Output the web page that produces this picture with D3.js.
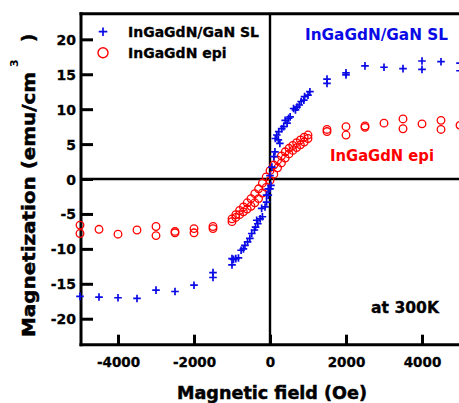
<!DOCTYPE html>
<html>
<head>
<meta charset="utf-8">
<script src="https://cdn.jsdelivr.net/npm/d3@7/dist/d3.min.js"></script>
<style>
  html, body { margin: 0; padding: 0; background: #fff; }
  svg { display: block; }
</style>
</head>
<body>
<svg id="chart" width="459" height="403"></svg>
<script>
// ---------- DATA ----------
const xTicks = [-4000, -2000, 0, 2000, 4000];
const yTicks = [-20, -15, -10, -5, 0, 5, 10, 15, 20];

// InGaGdN/GaN SL (blue +)
const slField = [
  -5000, -4500, -4000, -3500, -3000, -2500, -2000, -1500, -1500, -1000, -1000,
  -960, -900, -830, -760, -700, -660, -590, -530, -480, -410, -380, -320, -350,
  -260, -200, -220, -130, -90, -90, -45, -45, 0, 25,
  0, 50, 100, 130, 220, 260, 140, 180, 230, 310, 360, 400, 450, 490, 530,
  620, 670, 710, 770, 820, 890, 910, 1000, 1050,
  1500, 1500, 2000, 2000, 2500, 3000, 3500, 4000, 4000, 4500, 5000, 5000
];
const slMag = [
  -16.8, -16.9, -17.0, -17.1, -15.9, -16.1, -15.2, -13.4, -14.1, -11.4, -12.3,
  -11.5, -11.4, -11.3, -10.2, -10.0, -9.5, -9.0, -8.5, -7.8, -7.3, -6.9, -6.4, -5.9,
  -5.7, -5.4, -4.2, -4.0, -3.3, -2.3, -2.3, -1.4, -1.4, -0.9,
  0.5, 1.7, 3.2, 3.9, 5.6, 5.1, 5.8, 6.3, 6.8, 7.2, 7.5, 8.4, 8.0, 8.7, 8.9,
  10.1, 9.9, 10.3, 10.6, 11.1, 11.3, 11.8, 12.0, 12.5,
  14.3, 13.7, 15.2, 14.9, 16.2, 16.0, 15.8, 16.9, 15.7, 16.8, 16.6, 15.5
];

// InGaGdN epi (red o)
const epiField = [
  -5000, -5000, -4500, -4000, -3500, -3000, -3000, -2500, -2500, -2000, -2000, -1500, -1500,
  1000, 900, 800, 700, 600, 500, 400, 300, 200, 100, 0, -100, -200, -300, -400, -500, -600, -700, -800, -900, -1000,
  -1000, -900, -800, -700, -600, -500, -400, -300, -200, -100, 0, 100, 200, 300, 400, 500, 600, 700, 800, 900, 1000,
  1500, 1500, 2000, 2000, 2500, 2500, 3000, 3500, 3500, 4000, 4500, 4500, 5000
];
const epiMag = [
  -6.6, -7.8, -7.2, -7.9, -7.3, -6.8, -8.1, -7.5, -7.7, -7.1, -7.7, -6.8, -7.1,
  6.3, 6.0, 5.6, 5.2, 4.8, 4.4, 3.9, 3.3, 2.7, 2.0, 1.2, 0.3, -0.6, -1.4, -2.1, -2.8, -3.4, -4.0, -4.5, -5.1, -5.7,
  -6.1, -5.5, -5.1, -4.7, -4.3, -3.9, -3.4, -2.8, -2.0, -1.2, -0.2, 0.7, 1.6, 2.3, 3.0, 3.6, 4.1, 4.5, 4.9, 5.3, 5.8,
  7.1, 6.8, 7.5, 6.3, 7.6, 7.4, 8.0, 8.6, 7.2, 7.9, 8.4, 7.1, 7.7
];

const seriesNames = ["InGaGdN/GaN SL", "InGaGdN epi"];

// ---------- LAYOUT ----------
const svg = d3.select("#chart");
const pLeft = 81, pRight = 460, pTop = 13.7, pBottom = 344.7;
const blue = "#0a0ae6", red = "#ff0000";
const FONT = "'DejaVu Sans', sans-serif";

const x = d3.scaleLinear().domain([-5000, 5000]).range([pLeft - 1, pRight]);
const y = d3.scaleLinear().domain([-23.72, 23.67]).range([pBottom, pTop]);

// zero lines
svg.append("line").attr("x1", pLeft).attr("x2", pRight).attr("y1", y(0)).attr("y2", y(0))
  .attr("stroke", "#000").attr("stroke-width", 2.4);
svg.append("line").attr("x1", x(0)).attr("x2", x(0)).attr("y1", pTop).attr("y2", pBottom)
  .attr("stroke", "#000").attr("stroke-width", 2.4);

// axes
const fmt = d => String(d);
const yAxis = d3.axisLeft(y).tickValues(yTicks).tickSizeInner(-12).tickSizeOuter(0).tickPadding(5)
  .tickFormat(fmt);
const gy = svg.append("g").attr("transform", `translate(${pLeft},0)`).call(yAxis);
gy.select(".domain").remove();
gy.selectAll(".tick line").attr("stroke", "#000").attr("stroke-width", 3);
gy.selectAll(".tick text").attr("font-family", FONT).attr("font-weight", "bold")
  .attr("font-size", 14).attr("fill", "#000").attr("dy", "0.36em")
  .attr("stroke", "#000").attr("stroke-width", 0.3);

const xAxis = d3.axisBottom(x).tickValues(xTicks).tickSizeInner(-10).tickSizeOuter(0).tickPadding(13)
  .tickFormat(fmt);
const gx = svg.append("g").attr("transform", `translate(0,${pBottom})`).call(xAxis);
gx.select(".domain").remove();
gx.selectAll(".tick line").attr("stroke", "#000").attr("stroke-width", 3);
gx.selectAll(".tick text").attr("font-family", FONT).attr("font-weight", "bold")
  .attr("font-size", 13.5).attr("fill", "#000")
  .attr("stroke", "#000").attr("stroke-width", 0.3);

// frame lines (left, bottom, top)
svg.append("line").attr("x1", pLeft).attr("x2", pLeft).attr("y1", pTop - 1.5).attr("y2", pBottom + 1.5)
  .attr("stroke", "#000").attr("stroke-width", 3);
svg.append("line").attr("x1", pLeft - 1.5).attr("x2", pRight).attr("y1", pBottom).attr("y2", pBottom)
  .attr("stroke", "#000").attr("stroke-width", 3);
svg.append("line").attr("x1", pLeft - 1.5).attr("x2", pRight).attr("y1", pTop).attr("y2", pTop)
  .attr("stroke", "#000").attr("stroke-width", 3);

// markers
const plusPath = (cx, cy, s) => `M${cx - s},${cy}H${cx + s}M${cx},${cy - s}V${cy + s}`;

const epiData = epiField.map((h, i) => ({ h, m: epiMag[i] }));
const slData = slField.map((h, i) => ({ h, m: slMag[i] }));

svg.append("g").selectAll("circle").data(epiData).join("circle")
  .attr("cx", d => x(d.h)).attr("cy", d => y(d.m)).attr("r", 3.8)
  .attr("fill", "none").attr("stroke", red).attr("stroke-width", 1.3);

svg.append("g").selectAll("path").data(slData).join("path")
  .attr("d", d => plusPath(x(d.h), y(d.m), 3.8))
  .attr("fill", "none").attr("stroke", blue).attr("stroke-width", 1.7);

// legend
svg.append("path").attr("d", plusPath(103, 31.7, 4.3)).attr("stroke", blue).attr("stroke-width", 1.7).attr("fill", "none");
svg.append("circle").attr("cx", 103).attr("cy", 52.7).attr("r", 5).attr("fill", "none")
  .attr("stroke", red).attr("stroke-width", 1.4);
svg.append("text").attr("x", 128).attr("y", 36.6).text(seriesNames[0])
  .attr("font-family", FONT).attr("font-weight", "bold").attr("font-size", 14).attr("fill", "#000")
  .attr("stroke", "#000").attr("stroke-width", 0.3);
svg.append("text").attr("x", 128).attr("y", 57.6).text(seriesNames[1])
  .attr("font-family", FONT).attr("font-weight", "bold").attr("font-size", 14).attr("fill", "#000")
  .attr("stroke", "#000").attr("stroke-width", 0.3);

// annotations
svg.append("text").attr("x", 305).attr("y", 40).text("InGaGdN/GaN SL")
  .attr("font-family", FONT).attr("font-weight", "bold").attr("font-size", 15).attr("fill", blue)
  .attr("textLength", 143).attr("lengthAdjust", "spacingAndGlyphs");
svg.append("text").attr("x", 330).attr("y", 161).text("InGaGdN epi")
  .attr("font-family", FONT).attr("font-weight", "bold").attr("font-size", 15).attr("fill", red)
  .attr("textLength", 104).attr("lengthAdjust", "spacingAndGlyphs");
svg.append("text").attr("x", 371).attr("y", 313).text("at 300K")
  .attr("font-family", FONT).attr("font-weight", "bold").attr("font-size", 15).attr("fill", "#000")
  .attr("stroke", "#000").attr("stroke-width", 0.3)
  .attr("textLength", 68).attr("lengthAdjust", "spacingAndGlyphs");

// axis titles
svg.append("text").attr("x", 272).attr("y", 399).attr("text-anchor", "middle")
  .text("Magnetic field (Oe)")
  .attr("font-family", FONT).attr("font-weight", "bold").attr("font-size", 18).attr("fill", "#000")
  .attr("stroke", "#000").attr("stroke-width", 0.5)
  .attr("textLength", 190).attr("lengthAdjust", "spacingAndGlyphs");

const yt = svg.append("g").attr("transform", "translate(35,0) rotate(-90)");
yt.append("text").attr("x", -337).attr("y", 0).text("Magnetization (emu/cm")
  .attr("font-family", FONT).attr("font-weight", "bold").attr("font-size", 18).attr("fill", "#000")
  .attr("stroke", "#000").attr("stroke-width", 0.5)
  .attr("textLength", 265).attr("lengthAdjust", "spacingAndGlyphs");
yt.append("text").attr("x", -67).attr("y", -17).text("3")
  .attr("font-family", FONT).attr("font-weight", "bold").attr("font-size", 11).attr("fill", "#000");
yt.append("text").attr("x", -42).attr("y", 0).text(")")
  .attr("font-family", FONT).attr("font-weight", "bold").attr("font-size", 18).attr("fill", "#000")
  .attr("stroke", "#000").attr("stroke-width", 0.5);
</script>
</body>
</html>
